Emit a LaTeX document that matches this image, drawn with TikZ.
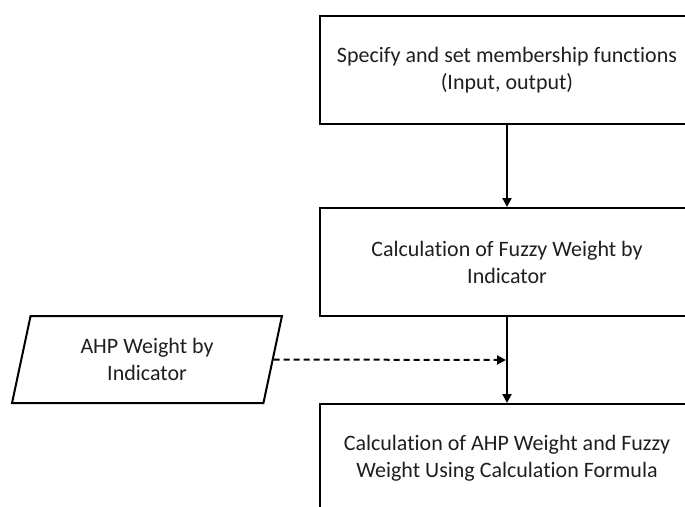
\documentclass[tikz,border=0pt]{standalone}
\usepackage{fontspec}
\setmainfont{Carlito}[Ligatures=NoCommon]
\usetikzlibrary{shapes.geometric,arrows.meta}
\begin{document}
\begin{tikzpicture}[x=1pt,y=-1pt,
  every node/.style={font=\fontsize{22}{27}\selectfont, text=black!88},
  procbox/.style={draw, line width=2pt, minimum width=374pt, minimum height=108pt, align=center, inner sep=0pt},
  databox/.style={draw, line width=2pt, trapezium, trapezium left angle=76, trapezium right angle=104,
     trapezium stretches=true, minimum width=270pt, minimum height=87pt, align=center, inner sep=0pt},
  flow/.style={line width=2pt, -{Triangle[length=9pt,width=9pt]}},
  dflow/.style={line width=2pt, dash pattern=on 6pt off 4pt, -{Triangle[length=9pt,width=9pt]}}]
\useasboundingbox (0,0) rectangle (685,506);
\clip (0,0) rectangle (685,506);
\node[procbox] (b1) at (507,70) {Specify and set membership functions\\(Input, output)};
\node[procbox] (b2) at (507,262) {Calculation of Fuzzy Weight by\\Indicator};
\node[procbox] (b3) at (507,458) {Calculation of AHP Weight and Fuzzy\\Weight Using Calculation Formula};
\node[databox] (ahp) at (147,359.5) {AHP Weight by\\Indicator};
\coordinate (hit) at (506,360);
\draw[flow] (b1.south) -- (b2.north);
\draw[flow] (b2.south) -- (b3.north);
\draw[dflow] (ahp.east) -- (hit);
\end{tikzpicture}
\end{document}
